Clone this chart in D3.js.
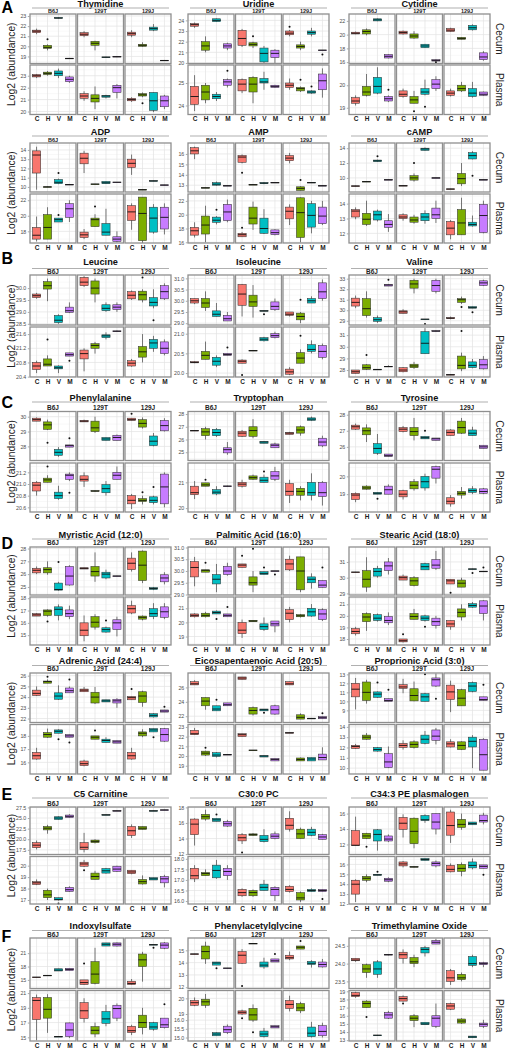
<!DOCTYPE html>
<html><head><meta charset="utf-8">
<script src="https://cdn.jsdelivr.net/npm/d3@7"></script>
<style>body{margin:0;background:#fff}svg{display:block}</style>
</head><body>
<svg id="chart" width="505" height="1050"></svg>
<script>
// ---------- categories ----------
const groups = ["C","H","V","M"];
const strains = ["B6J","129T","129J"];
const tissues = ["Cecum","Plasma"];
const sectionLetters = ["A","B","C","D","E","F"];
const metaboliteNames = ["Thymidine","Uridine","Cytidine","ADP","AMP","cAMP",
  "Leucine","Isoleucine","Valine","Phenylalanine","Tryptophan","Tyrosine",
  "Myristic Acid (12:0)","Palmitic Acid (16:0)","Stearic Acid (18:0)",
  "Adrenic Acid (24:4)","Eicosapentaenoic Acid (20:5)","Proprionic Acid (3:0)",
  "C5 Carnitine","C30:0 PC","C34:3 PE plasmalogen",
  "Indoxylsulfate","Phenylacetylglycine","Trimethylamine Oxide"];

// ---------- y domains and ticks (per metabolite: [cecum, plasma]) ----------
const cecumDomains = [[18.3,23.2],[19.95,24.6],[15.8,23.0],[9.45,14.75],[12.35,17.05],[8.1,14.7],
  [28.45,30.55],[28.92,31.15],[28.6,33.35],[27.05,30.35],[24.35,28.2],[25.15,28.2],
  [24.37,28.12],[28.98,31.02],[28.9,31.95],[21.63,26.25],[21.13,28.0],[7.65,13.15],
  [16.4,27.6],[11.95,18.05],[10.7,16.85],[13.07,24.4],[11.9,16.0],[23.3,24.72]];
const plasmaDomains = [[19.75,23.9],[23.6,25.8],[18.7,20.9],[16.5,22.8],[15.9,23.0],[11.35,14.65],
  [20.39,21.8],[19.9,21.17],[27.4,31.7],[20.52,21.36],[19.85,21.75],[18.0,20.75],
  [14.2,18.1],[18.4,21.8],[17.48,21.63],[15.12,18.86],[18.15,23.25],[9.43,14.23],
  [16.65,20.8],[15.86,18.11],[12.0,16.8],[14.5,21.35],[14.8,17.7],[12.9,19.1]];
const cecumTicks = [[19,20,21,22,23],[20,21,22,23,24],[16,18,20,22],[10,11,12,13,14],[13,14,15,16],[10,12,14],
  [28.5,29.0,29.5,30.0],[29.0,29.5,30.0,30.5,31.0],[29.0,30.0,31.0,32.0,33.0],[28,29,30],[25,26,27,28],[26,27,28],
  [25,26,27,28],[29.0,29.5,30.0,30.5,31.0],[29,30,31],[22,23,24,25,26],[22,24,26],[9,10,11,12,13],
  [17.5,20.0,22.5,25.0,27.5],[12,14,16,18],[12,14,16],[15,18,21],[12,13,14,15],[23.5,24.0,24.5]];
const plasmaTicks = [[20,21,22,23],[24,25],[19,20],[18,20,22],[16,18,20,22],[12,13,14],
  [20.4,20.8,21.2,21.6],[20.0,20.5,21.0],[28.0,29.0,30.0,31.0],[20.6,20.8,21.0,21.2],[20,21],[19,20],
  [15,16,17,18],[19,20,21],[18,19,20,21],[16,17,18],[19,20,21,22,23],[10,11,12,13,14],
  [17.0,18.0,19.0,20.0],[16.0,16.5,17.0,17.5,18.0],[12,13,14,15,16],[15,17,19,21],[15.0,15.5,16.0,16.35,17.25],[13,14,15,16,17,18,19]];
// special tick labels for Phenylacetylglycine plasma axis (as printed in the figure)
const pagPlasmaTickLabels = ["15.0","15.5","16.0","19","20"];

// ---------- box data: [lower whisker, Q1, median, Q3, upper whisker, ...outliers] ----------
// order: B6J C,H,V,M | 129T C,H,V,M | 129J C,H,V,M
const thymidineCecum = [[21.2,21.35,21.5,21.6,21.75],[19.6,19.8,19.9,20.1,20.2,20.7],[22.75,22.78,22.8,22.85,22.88],[18.75,18.77,18.8,18.82,18.85],
  [20.9,21.05,21.2,21.35,21.5],[19.6,20.1,20.3,20.5,20.55],[18.88,18.9,18.92,18.95,18.97],[18.93,18.95,18.97,19.0,19.02],
  [20.9,21.1,21.25,21.4,21.6],[19.95,20.0,20.1,20.2,20.4],[21.5,21.6,21.75,21.9,22.2],[18.55,18.58,18.6,18.62,18.65]];
const thymidinePlasma = [[22.8,22.9,23.0,23.1,23.15],[23.0,23.1,23.2,23.3,23.4],[22.8,23.0,23.2,23.4,23.6],[22.4,22.5,22.7,22.9,23.0],
  [20.9,21.1,21.3,21.5,21.7],[20.2,20.8,21.1,21.4,22.1],[21.1,21.2,21.3,21.35,21.4],[21.1,21.6,22.0,22.2,22.3],
  [20.8,20.9,21.0,21.1,21.2],[21.2,21.3,21.4,21.5,21.6,20.7],[19.95,20.1,20.9,21.6,21.6],[20.2,20.4,20.9,21.3,21.4]];
const uridineCecum = [[23.3,23.45,23.6,23.7,23.8],[21.0,21.2,21.6,22.0,22.5],[23.85,23.88,24.0,24.15,24.18],[21.2,21.4,21.6,21.8,21.9],
  [21.5,21.66,22.3,23.07,23.2],[21.4,21.6,21.75,21.9,22.0,22.5],[20.0,20.1,20.9,21.4,21.6],[20.0,20.5,20.9,21.2,21.3],
  [22.5,22.65,22.8,23.0,23.1,23.4],[21.2,21.4,21.55,21.7,22.0],[22.5,22.7,22.85,23.0,23.3],[21.18,21.19,21.2,21.21,21.22,20.8]];
const uridinePlasma = [[23.75,24.05,24.4,24.85,25.35],[24.1,24.25,24.6,24.9,25.0],[24.2,24.3,24.4,24.5,24.6],[24.8,24.9,25.05,25.15,25.2,25.55],
  [24.55,24.65,24.95,25.15,25.2],[24.1,24.6,24.95,25.25,25.3],[24.7,25.0,25.05,25.2,25.5],[24.78,24.8,24.85,24.9,24.92],
  [24.7,24.8,24.9,25.0,25.2],[24.6,24.65,24.75,24.8,24.85,25.15],[24.52,24.55,24.6,24.65,24.68,24.85],[24.35,24.7,25.1,25.4,25.65]];
const cytidineCecum = [[20.05,20.1,20.2,20.35,20.45],[19.9,20.1,20.45,20.7,20.9],[21.95,22.0,22.15,22.3,22.35],[16.55,16.6,16.85,17.1,17.15],
  [20.0,20.1,20.3,20.5,20.6],[19.4,19.5,19.8,20.1,20.5],[18.05,18.1,18.35,18.6,18.65],[16.12,16.15,16.25,16.35,16.4,16.0],
  [20.4,20.45,20.65,20.9,21.0],[19.3,19.32,19.45,19.6,19.62],[20.6,20.7,21.0,21.35,21.5],[16.2,16.35,16.75,17.35,17.6]];
const cytidinePlasma = [[19.1,19.2,19.3,19.45,19.55],[19.5,19.55,19.7,19.95,20.5],[19.6,19.65,19.95,20.35,20.8],[19.25,19.3,19.4,19.5,19.55,19.8],
  [19.45,19.5,19.6,19.75,19.85],[19.2,19.2,19.35,19.5,19.75,18.85],[19.55,19.6,19.7,19.85,20.25,19.05],[19.75,19.85,20.05,20.25,20.4],
  [19.5,19.55,19.65,19.75,19.85],[19.7,19.75,19.85,20.0,20.15],[19.45,19.5,19.65,19.85,20.15],[19.53,19.55,19.6,19.7,19.72]];
const adpCecum = [[9.7,11.5,13.45,13.9,14.35],[9.97,9.98,10.0,10.02,10.05],[10.3,10.35,10.5,10.8,10.9,11.5],[10.22,10.23,10.25,10.27,10.28],
  [11.5,12.5,13.1,13.65,13.9],[10.27,10.28,10.3,10.32,10.33],[10.33,10.35,10.45,10.6,10.62],[10.47,10.48,10.5,10.52,10.53],
  [11.3,12.1,12.55,13.0,13.5],[9.67,9.68,9.7,9.72,9.73],[10.62,10.63,10.65,10.67,10.68],[10.17,10.18,10.2,10.22,10.23]];
const adpPlasma = [[16.7,17.0,17.5,18.5,19.9],[17.0,17.0,18.5,20.15,21.1],[19.2,19.2,19.5,19.7,19.7,20.1],[19.2,19.8,20.9,21.55,22.0],
  [17.0,17.2,17.55,17.9,18.3],[18.6,18.6,19.5,19.7,20.2,21.2],[17.5,17.5,17.9,19.0,20.9],[16.6,16.7,17.0,17.3,18.0],
  [18.2,19.4,20.5,21.3,21.6],[16.5,16.8,20.3,22.4,22.4],[17.7,17.9,19.7,21.1,21.5],[17.6,18.3,19.8,21.1,21.6]];
const ampCecum = [[15.5,16.0,16.3,16.6,16.7],[12.73,12.74,12.75,12.77,12.78],[12.95,13.0,13.1,13.25,13.35],[12.93,12.94,12.95,12.97,12.98],
  [15.1,15.2,15.7,15.85,15.95,14.2],[13.03,13.04,13.05,13.07,13.08],[13.1,13.15,13.2,13.25,13.3],[13.23,13.24,13.25,13.27,13.28],
  [15.1,15.35,15.6,15.85,16.1],[12.5,12.5,12.7,12.85,12.9,13.5],[13.23,13.24,13.25,13.27,13.28],[12.93,12.94,12.95,12.97,12.98]];
const ampPlasma = [[16.7,17.04,17.67,18.16,18.9],[16.0,17.2,18.5,19.8,21.3],[18.6,18.9,19.2,19.65,19.8,20.7],[18.9,19.15,20.4,21.5,22.2],
  [16.8,16.8,17.1,17.3,17.5,18.1],[17.8,18.65,19.5,21.1,21.9],[17.2,17.3,18.0,19.5,20.8],[17.0,17.1,17.4,17.8,17.9],
  [18.5,19.4,20.5,21.1,21.5],[16.0,16.7,20.3,22.45,22.5],[17.3,18.2,19.9,21.6,22.0],[18.5,18.7,19.8,21.1,22.0]];
const campCecum = [[8.85,8.87,8.9,8.93,8.95],[9.47,9.48,9.5,9.52,9.53],[12.15,12.2,12.3,12.4,12.45,12.9],[9.72,9.73,9.75,9.77,9.78],
  [8.92,8.93,8.95,8.97,8.98],[9.5,9.7,10.0,10.3,10.6,12.0],[13.65,13.7,13.9,14.0,14.1],[9.97,9.98,10.0,10.02,10.03],
  [8.47,8.48,8.5,8.52,8.53],[8.9,9.2,9.9,10.6,12.0],[12.5,12.55,13.0,13.4,13.6,10.3],[9.72,9.73,9.75,9.77,9.78]];
const campPlasma = [[12.95,13.1,13.5,13.6,13.75],[12.5,12.6,12.95,13.35,14.2],[12.8,12.9,13.25,13.5,13.6],[12.1,12.4,12.6,12.85,13.3],
  [12.85,13.0,13.1,13.25,13.35],[12.65,12.75,12.9,13.1,13.25],[12.65,12.85,13.1,13.35,13.55],[12.7,13.0,13.25,13.7,14.2],
  [11.6,11.9,12.35,12.8,12.9],[11.9,11.9,12.7,13.6,14.4],[12.45,12.5,12.6,12.75,13.2],[12.0,12.05,13.2,13.95,14.2]];
const leucineCecum = [[29.55,29.6,29.68,29.75,29.8],[29.45,29.96,30.1,30.27,30.4],[28.5,28.55,28.65,28.85,28.9],[28.95,28.98,29.05,29.2,29.4],
  [30.05,30.1,30.25,30.45,30.5],[29.4,29.75,30.0,30.3,30.4],[29.0,29.05,29.15,29.3,29.4],[29.0,29.1,29.2,29.3,29.4],
  [29.5,29.55,29.7,29.85,29.9],[29.4,29.5,29.72,29.87,29.95,30.45],[29.15,29.25,29.4,29.6,29.95,28.65],[29.5,29.55,29.85,30.1,30.2]];
const leucinePlasma = [[20.5,20.6,20.7,20.8,20.85],[20.7,20.7,20.75,20.9,21.0,21.45],[20.5,20.62,20.65,20.7,20.72],[20.98,20.98,21.02,21.07,21.07,20.85],
  [20.55,20.9,21.05,21.15,21.2],[21.05,21.2,21.28,21.33,21.38],[21.45,21.5,21.55,21.58,21.65],[21.66,21.67,21.68,21.69,21.7],
  [20.68,20.7,20.78,20.85,20.9],[20.8,20.95,21.1,21.25,21.6],[21.1,21.2,21.35,21.45,21.55],[21.0,21.05,21.2,21.38,21.45]];
const isoleucineCecum = [[29.85,29.9,30.0,30.1,30.1],[29.55,29.7,29.9,30.1,30.42],[29.3,29.3,29.4,29.55,29.9],[29.1,29.1,29.2,29.35,29.5],
  [29.3,29.8,30.3,30.73,30.75],[29.25,29.75,29.95,30.25,30.7],[29.53,29.54,29.55,29.56,29.57,29.4],[29.55,29.6,29.75,29.95,30.1],
  [29.3,29.35,29.4,29.5,29.5],[29.0,29.15,29.3,29.45,29.5,30.05],[29.9,29.9,30.0,30.1,30.2],[30.0,30.1,30.4,30.8,30.95]];
const isoleucinePlasma = [[20.25,20.26,20.27,20.29,20.3],[20.35,20.35,20.45,20.55,20.8],[20.15,20.2,20.3,20.4,20.45],[20.45,20.45,20.47,20.5,20.5,20.65],
  [20.25,20.25,20.3,20.33,20.35,19.95],[20.56,20.565,20.57,20.575,20.58],[20.8,20.82,20.86,20.9,20.92],[20.88,20.9,20.95,21.0,21.05],
  [19.95,19.97,20.03,20.1,20.15],[20.25,20.25,20.38,20.52,20.6,20.95],[20.5,20.55,20.6,20.72,20.83],[20.35,20.4,20.55,20.7,20.75]];
const valineCecum = [[30.2,30.4,30.75,31.15,31.4],[29.3,29.5,30.15,31.1,31.8],[28.8,28.95,29.1,29.3,29.5],[32.3,32.3,32.4,32.45,32.5,32.9],
  [29.7,29.7,29.85,29.95,30.1],[31.6,32.1,32.5,32.85,33.0],[29.13,29.14,29.15,29.16,29.17,28.7],[31.6,31.8,32.35,32.85,33.0],
  [29.15,29.2,29.25,29.3,29.4],[30.6,30.75,31.0,31.1,31.3,30.3],[30.2,30.2,30.25,30.35,30.35,29.8],[32.3,32.35,32.6,32.8,32.9]];
const valinePlasma = [[27.7,27.7,27.85,28.0,28.0],[28.0,28.05,28.2,28.45,28.5,29.3],[28.03,28.04,28.05,28.06,28.07],[28.28,28.29,28.3,28.32,28.4],
  [27.8,27.85,28.0,28.2,28.25],[28.1,28.2,28.35,28.5,28.7],[29.4,29.4,30.3,31.3,31.6],[31.3,31.32,31.35,31.38,31.4],
  [27.58,27.59,27.6,27.61,27.62],[27.9,28.1,28.4,29.2,29.5,31.35],[28.15,28.2,28.4,28.7,28.95],[28.05,28.1,28.45,28.9,29.2]];
const phenylalanineCecum = [[29.7,29.7,29.8,29.9,29.95],[29.1,29.15,29.45,29.65,29.8,28.25],[27.3,27.4,27.6,27.8,27.95],[27.95,27.95,28.05,28.1,28.1,28.55],
  [29.65,29.65,29.7,29.75,29.8],[28.9,29.0,29.25,29.7,30.0],[28.4,28.4,28.5,28.6,28.6],[28.4,28.4,28.6,28.75,28.8],
  [29.75,29.75,29.8,29.9,29.9,30.2],[29.2,29.3,29.55,29.8,29.95],[28.0,28.05,28.35,28.7,28.9],[29.0,29.05,29.4,29.75,29.9]];
const phenylalaninePlasma = [[20.8,20.88,20.98,21.03,21.05],[21.03,21.03,21.07,21.1,21.15,21.3],[20.73,20.75,20.8,20.86,20.97],[21.05,21.08,21.15,21.17,21.2,20.85],
  [20.95,21.05,21.08,21.14,21.2],[20.87,20.875,20.88,20.885,20.89],[20.8,20.85,20.92,20.99,21.05],[21.08,21.08,21.15,21.2,21.3],
  [20.57,20.66,20.72,20.8,20.83],[20.65,20.7,20.72,20.75,20.8,20.86],[20.65,20.68,20.72,20.78,20.8,20.95],[20.6,20.66,20.95,21.17,21.2]];
const tryptophanCecum = [[26.68,26.69,26.7,26.71,26.72],[26.0,26.3,26.6,26.85,27.0],[26.2,26.3,26.55,26.8,26.9],[24.8,24.95,25.2,25.35,25.8],
  [26.2,26.25,26.5,26.65,26.75],[26.1,26.25,26.7,27.0,27.6],[25.7,25.7,25.8,25.85,25.85],[25.35,25.35,25.55,25.65,25.75],
  [26.4,26.4,26.5,26.55,26.6],[26.3,26.5,26.75,27.0,27.1],[27.45,27.5,27.6,27.7,27.8],[25.4,25.5,25.8,26.1,26.3]];
const tryptophanPlasma = [[20.35,20.52,20.6,20.85,21.05],[20.85,20.85,20.9,20.98,20.98,21.1],[20.5,20.55,20.62,20.72,20.85],[20.83,20.84,20.85,20.86,20.87],
  [20.8,20.85,20.93,21.0,21.1],[21.1,21.12,21.18,21.25,21.3],[21.0,21.0,21.08,21.2,21.3,21.42],[21.05,21.12,21.25,21.42,21.6],
  [20.2,20.5,20.65,20.95,21.1],[20.3,20.5,20.65,20.77,20.85],[20.3,20.5,20.6,21.0,21.35],[20.1,20.45,20.6,21.0,21.05]];
const tyrosineCecum = [[27.05,27.1,27.25,27.35,27.45],[26.3,26.75,27.0,27.18,27.4],[25.5,25.6,25.9,26.2,26.8],[25.4,25.4,25.45,25.55,25.55],
  [26.9,26.95,27.1,27.2,27.3],[26.4,26.7,26.95,27.2,27.8],[26.5,26.5,26.57,26.65,26.65,27.0],[26.4,26.4,26.5,26.55,26.55],
  [26.7,26.7,26.9,27.05,27.1],[26.8,26.85,27.2,27.6,27.8],[26.7,26.7,26.85,27.05,27.25],[25.9,25.9,26.0,26.1,26.1]];
const tyrosinePlasma = [[18.55,18.7,18.95,19.05,19.1],[19.25,19.28,19.35,19.45,19.5],[19.0,19.0,19.05,19.1,19.1,18.75],[19.0,19.0,19.25,19.45,19.55],
  [18.7,18.85,19.0,19.2,19.25],[19.2,19.3,19.5,19.7,19.85],[19.2,19.35,19.7,20.0,20.15],[19.6,19.9,20.4,20.55,20.6],
  [18.3,18.45,18.6,18.8,18.95],[18.75,18.95,19.05,19.15,19.4],[19.0,19.1,19.2,19.3,19.45],[19.0,19.05,19.15,19.3,19.35]];
const myristicCecum = [[26.0,26.1,26.3,26.45,26.6],[25.95,26.1,26.35,26.5,27.0],[24.7,24.75,24.8,25.3,25.4,26.95],[25.1,25.15,25.85,26.6,26.7],
  [26.4,26.4,26.45,26.5,26.5],[25.4,25.85,26.2,26.6,27.7],[25.6,25.7,26.0,26.15,26.35],[25.83,25.84,25.85,25.86,25.87],
  [26.2,26.35,26.85,27.25,27.7],[25.3,25.5,26.7,27.8,27.85],[24.75,24.8,24.88,24.95,25.0],[25.2,25.4,25.7,25.95,26.15]];
const myristicPlasma = [[16.55,16.55,16.65,16.75,16.8],[16.5,16.6,16.95,17.05,17.1,16.1],[16.2,16.6,17.1,17.3,17.5],[16.3,16.5,16.75,17.05,17.4],
  [14.5,14.95,15.4,16.0,16.6],[15.45,15.65,16.05,16.5,16.7],[15.2,15.25,15.45,15.6,15.7,16.2],[14.9,15.45,16.0,16.25,16.5],
  [16.7,16.8,17.15,17.4,17.8],[16.2,16.3,16.45,16.55,16.6],[16.3,16.5,16.75,17.15,17.6],[16.3,16.45,16.9,17.3,17.6]];
const palmiticCecum = [[29.35,29.75,30.15,30.4,30.6],[29.95,29.95,30.03,30.05,30.05,30.35],[29.1,29.45,29.65,29.85,30.3],[29.8,29.85,30.0,30.2,30.35],
  [30.15,30.15,30.25,30.3,30.3,30.65],[29.1,29.4,29.5,29.75,30.0,30.95],[29.85,29.85,29.9,29.97,29.97,30.15],[29.99,29.995,30.0,30.005,30.01,29.85],
  [30.0,30.05,30.3,30.5,30.65],[29.1,29.2,30.0,30.6,30.6],[29.25,29.5,29.65,29.75,29.9],[29.3,29.3,29.4,29.6,29.6,30.15]];
const palmiticPlasma = [[20.35,20.4,20.5,20.6,20.65],[20.35,20.4,20.5,20.65,20.75],[20.6,20.6,20.7,20.8,20.85,20.25],[20.4,20.4,20.5,20.6,20.6,21.1],
  [18.9,19.2,19.45,20.0,20.2],[20.05,20.05,20.1,20.15,20.15],[19.4,19.5,19.7,19.9,20.35],[19.3,19.75,19.9,20.1,20.1],
  [20.0,20.2,20.65,20.9,21.1],[20.35,20.4,20.47,20.55,20.6],[20.4,20.45,20.75,21.0,21.3],[20.1,20.2,20.6,20.9,21.0]];
const stearicCecum = [[30.33,30.34,30.35,30.36,30.37],[29.1,29.4,29.9,30.45,31.3],[30.0,30.1,30.4,30.6,30.75],[30.2,30.45,30.75,31.0,31.25],
  [29.85,29.85,30.0,30.1,30.2],[29.45,29.5,29.8,30.0,30.1],[30.5,30.5,30.7,30.9,30.95],[30.5,30.6,30.8,31.15,31.7],
  [29.6,29.6,29.8,29.9,29.9,29.05],[29.4,29.4,29.65,29.85,30.0],[30.53,30.54,30.55,30.56,30.57,30.3],[30.38,30.39,30.4,30.41,30.42,30.65]];
const stearicPlasma = [[18.3,18.45,18.65,18.9,19.05],[18.7,19.5,19.9,20.2,20.3],[19.5,19.6,19.8,20.1,20.2],[19.2,19.4,19.6,19.95,20.3],
  [17.7,17.75,17.85,18.0,18.0,18.4],[19.7,19.7,19.95,20.2,20.6],[19.5,19.6,19.8,20.0,20.1,19.05],[18.9,19.15,19.5,19.8,20.0],
  [18.8,19.05,19.3,19.6,19.6],[19.6,19.9,20.3,20.6,21.0],[20.7,20.75,20.9,21.05,21.2],[19.6,20.2,20.85,21.3,21.35]];
const adrenicCecum = [[24.1,24.15,24.35,24.65,25.0],[25.3,25.3,25.45,25.5,25.65,25.9],[23.75,23.8,24.1,24.4,25.1],[24.4,24.4,24.6,24.85,25.0,25.65],
  [24.5,24.5,24.65,24.75,24.95],[23.35,23.45,24.0,24.45,24.95],[23.55,23.55,23.65,23.75,23.75],[23.0,23.45,23.65,23.8,23.9],
  [23.75,23.75,23.95,24.05,24.05,24.75],[23.1,23.5,24.1,24.5,24.6],[22.1,22.15,22.3,22.45,22.5],[22.6,22.6,22.7,22.8,22.8,23.1]];
const adrenicPlasma = [[16.2,16.25,16.5,16.75,17.1],[17.85,17.9,18.1,18.25,18.55],[18.2,18.2,18.35,18.45,18.5,17.75],[17.9,17.9,18.0,18.1,18.1,17.5],
  [15.7,15.75,15.9,16.1,16.2],[17.75,17.75,17.9,18.0,18.0,18.4],[17.5,17.5,17.65,17.75,17.9],[17.45,17.45,17.55,17.65,17.65],
  [16.2,16.25,16.5,16.75,17.1],[17.9,18.0,18.2,18.3,18.5],[18.3,18.3,18.45,18.55,18.55,17.9],[17.55,17.6,18.1,18.55,18.6]];
const epaCecum = [[26.35,26.35,26.5,26.8,27.0],[22.9,23.45,24.1,24.6,24.6],[22.75,22.75,23.0,23.45,23.45,24.3],[23.45,23.45,23.6,23.85,23.85],
  [27.1,27.1,27.3,27.45,27.45],[22.1,22.3,22.8,23.2,23.35],[22.75,22.75,22.9,23.0,23.0,22.5],[22.2,22.3,22.9,23.45,23.6],
  [26.35,26.35,26.5,26.8,26.8],[21.6,21.6,21.85,22.2,22.4],[21.68,21.69,21.7,21.71,21.72],[21.65,21.65,21.8,21.95,21.95,22.4]];
const epaPlasma = [[22.2,22.2,22.3,22.65,22.9],[20.0,20.1,20.3,20.5,20.55,20.85],[19.85,19.95,20.1,20.35,20.4],[20.13,20.14,20.15,20.16,20.17],
  [22.0,22.0,22.2,22.3,22.3],[20.58,20.59,20.6,20.61,20.62],[19.9,19.9,20.0,20.05,20.05],[19.5,19.5,19.65,19.75,19.75],
  [22.38,22.39,22.4,22.41,22.42],[19.5,19.5,19.65,19.8,19.85],[19.5,19.5,19.7,19.85,19.85],[19.6,19.6,19.85,20.2,20.9]];
const propionicCecum = [[9.1,10.5,11.35,12.0,12.6],[9.75,10.1,11.0,12.15,12.4],[10.4,10.45,10.8,11.05,11.1,12.1],[10.0,10.0,10.1,10.3,10.3,11.3],
  [10.9,11.45,11.6,11.85,12.5],[10.0,10.05,10.65,11.4,12.2],[10.0,10.0,10.5,10.85,10.95,13.0],[11.6,11.7,12.4,12.6,13.1,10.3],
  [8.8,10.2,11.05,11.8,12.3],[9.5,9.5,10.35,11.3,11.4],[11.0,11.1,11.7,12.1,12.2],[10.1,10.1,10.2,10.5,10.5,11.85]];
const propionicPlasma = [[11.85,11.9,12.1,12.2,12.35],[12.75,12.8,13.0,13.2,13.4],[11.6,11.65,11.8,12.0,12.05],[10.0,10.05,10.6,11.4,12.1],
  [11.8,12.0,12.2,12.4,12.7],[11.9,12.0,12.3,12.55,12.7],[12.3,12.4,12.8,13.2,13.6],[12.3,12.7,13.1,13.7,13.9],
  [12.0,12.05,12.35,12.55,12.8],[11.75,11.8,12.2,12.55,12.6],[10.0,12.05,12.6,13.0,13.2],[9.8,9.8,11.3,12.8,12.9]];
const c5CarnitineCecum = [[17.6,18.0,18.6,19.2,19.7],[21.3,22.2,22.6,23.0,23.4],[24.6,24.65,25.0,25.3,25.4],[25.0,25.1,25.4,25.7,25.9],
  [16.9,17.6,18.1,19.2,21.5],[19.0,19.2,19.5,19.8,20.0],[25.7,25.72,25.75,25.78,25.8],[26.65,26.67,26.7,26.73,26.75],
  [20.3,20.9,22.0,23.0,23.5],[22.3,22.3,22.6,23.0,23.0],[26.65,26.67,26.7,26.73,26.75],[26.85,26.87,26.9,26.93,26.95]];
const c5CarnitinePlasma = [[18.3,18.35,18.5,18.6,18.8],[17.0,17.2,17.45,17.85,18.0],[16.95,17.0,17.05,17.2,17.2,16.7],[17.7,17.75,17.9,18.1,18.2],
  [19.9,19.95,20.15,20.3,20.5,19.6],[18.8,18.8,19.05,19.35,19.55],[19.3,19.35,19.55,19.75,19.8],[19.45,19.5,19.7,19.95,20.0],
  [19.25,19.3,19.45,19.6,19.6],[18.35,18.4,18.6,18.8,19.15],[18.75,18.75,18.85,18.95,18.95],[18.1,18.5,18.85,19.05,19.2]];
const c30pcCecum = [[13.1,14.5,15.85,16.5,16.6],[16.3,16.5,16.8,17.1,17.7],[16.2,16.2,16.4,16.6,16.6,17.1],[15.5,15.6,15.9,16.2,16.4],
  [13.3,13.7,14.1,14.5,14.7,12.2],[14.35,14.4,14.5,14.6,14.7],[13.5,13.6,13.9,14.4,15.2],[13.9,14.0,14.3,14.6,14.9],
  [14.9,15.2,15.7,16.6,17.5],[14.0,14.0,14.6,15.2,15.4],[14.3,14.4,14.8,15.2,15.5],[13.9,13.9,14.2,14.5,14.6]];
const c30pcPlasma = [[16.9,17.05,17.2,17.55,17.7],[17.2,17.2,17.3,17.35,17.5],[17.05,17.1,17.45,17.7,17.95],[17.0,17.2,17.4,17.55,17.7],
  [16.2,16.25,16.4,16.55,16.6],[16.2,16.25,16.4,16.5,16.55],[16.5,16.5,16.65,16.8,17.0],[16.0,16.25,16.55,16.65,16.7],
  [16.4,16.45,16.55,16.7,16.75],[15.95,16.05,16.15,16.4,16.45],[16.45,16.45,16.5,16.55,16.6],[16.45,16.45,16.5,16.55,16.55,16.1]];
const c34peCecum = [[11.85,11.85,11.9,13.8,15.6],[12.7,12.75,13.1,13.45,13.5,11.7],[11.2,12.45,13.3,13.9,14.0],[12.3,12.45,12.7,13.1,13.3],
  [12.9,13.95,14.75,15.5,15.9],[11.5,12.1,13.7,15.4,15.5],[14.8,15.1,15.2,15.75,15.9],[13.3,14.0,14.9,16.0,16.0],
  [12.2,13.2,14.45,16.2,16.5],[13.9,14.2,14.6,15.25,16.0],[14.55,14.55,14.7,14.9,14.9],[14.6,14.9,15.1,15.8,16.1]];
const c34pePlasma = [[12.2,13.0,14.0,14.4,14.5],[14.2,14.4,14.6,14.8,15.0],[14.9,14.9,14.95,15.0,15.0,15.25],[14.2,14.3,14.45,14.6,14.7],
  [15.7,15.85,16.05,16.25,16.35],[15.7,15.72,15.75,15.78,15.8],[16.4,16.4,16.5,16.6,16.6],[15.7,15.85,16.1,16.25,16.4],
  [15.2,15.25,15.5,15.9,16.1],[14.8,15.3,15.6,16.0,16.2],[15.5,15.65,15.9,16.25,16.6],[15.6,15.6,15.8,15.95,15.95,14.95]];
const indoxylCecum = [[15.55,15.57,15.6,15.63,15.65],[15.95,15.97,16.0,16.03,16.05],[17.0,17.0,17.2,17.5,17.5],[17.1,17.1,17.35,17.6,17.6],
  [13.9,13.95,14.4,15.0,15.0,18.7],[14.0,14.2,16.3,19.1,22.2],[22.6,22.6,23.0,23.3,23.3],[22.5,22.6,23.0,23.3,23.4],
  [13.9,13.95,14.2,14.7,15.2],[14.6,18.0,19.5,20.8,21.3],[22.85,22.87,22.9,22.93,22.95,22.2],[21.9,22.1,22.8,23.3,23.5]];
const indoxylPlasma = [[14.6,17.4,20.0,20.4,20.8],[15.6,17.6,18.8,20.4,20.85],[15.08,15.09,15.1,15.11,15.12],[14.9,15.1,16.0,16.95,17.0],
  [17.0,17.55,18.6,19.7,20.3],[15.0,15.45,15.95,16.45,17.0],[16.5,16.9,17.5,18.5,19.4],[17.2,17.6,18.9,19.35,19.6],
  [15.3,15.65,15.9,16.5,16.7],[15.4,16.3,17.0,18.0,19.0],[15.9,16.1,16.4,17.0,17.1],[16.2,16.3,16.7,17.6,17.6,19.5]];
const pagCecum = [[14.68,14.69,14.7,14.71,14.72],[13.9,14.3,14.9,15.35,15.7],[13.8,13.8,13.97,14.05,14.05,13.55],[13.53,13.54,13.55,13.56,13.57],
  [13.9,13.95,14.6,14.9,15.1,12.1],[15.53,15.54,15.55,15.56,15.57],[13.5,13.65,13.8,14.05,14.4],[14.05,14.05,14.15,14.3,14.3,14.7],
  [14.2,14.3,14.4,14.6,14.9],[15.1,15.1,15.25,15.35,15.35,15.75],[13.6,13.85,13.95,14.1,14.2],[13.6,13.65,13.85,14.05,14.3]];
const pagPlasma = [[16.8,16.85,17.0,17.13,17.3],[16.7,16.85,17.05,17.2,17.5],[15.1,15.1,15.2,15.28,15.3],[15.2,15.28,15.45,15.65,15.75],
  [16.3,16.35,16.45,16.53,16.6,16.1],[15.9,16.0,16.3,16.67,16.9,15.3],[15.0,15.05,15.2,15.37,15.55],[15.55,15.55,15.62,15.68,15.68],
  [16.5,16.67,16.9,17.13,17.4],[16.4,16.53,16.7,16.95,17.05],[15.0,15.05,15.25,15.6,15.9],[15.0,15.1,15.35,15.68,15.85]];
const tmaoCecum = [[24.05,24.08,24.1,24.15,24.15],[23.6,23.75,23.85,23.97,24.0],[23.6,23.7,23.85,24.05,24.1],[24.23,24.24,24.25,24.26,24.27],
  [24.0,24.15,24.25,24.32,24.4],[23.9,24.0,24.05,24.17,24.25],[24.2,24.3,24.4,24.45,24.5],[24.55,24.55,24.6,24.65,24.7],
  [23.4,23.5,23.6,23.8,23.85],[23.5,23.55,23.6,23.7,23.75],[23.9,23.95,24.0,24.2,24.25],[23.9,23.97,24.0,24.03,24.05]];
const tmaoPlasma = [[18.2,18.35,18.5,18.85,18.95],[17.0,17.0,17.5,17.8,17.9,15.85],[13.55,13.57,13.6,13.63,13.65],[15.6,15.7,16.1,16.4,16.6],
  [17.75,17.8,18.1,18.35,18.5,17.5],[14.6,15.4,15.7,16.0,16.2],[14.9,14.9,15.0,15.2,15.2],[14.5,14.7,15.7,16.0,17.5],
  [16.7,16.8,17.2,17.5,17.6],[15.0,15.1,15.35,15.6,15.7],[13.3,13.3,13.4,13.5,13.5],[14.5,14.7,14.95,15.1,15.5]];

const cecumData = [thymidineCecum,uridineCecum,cytidineCecum,adpCecum,ampCecum,campCecum,
  leucineCecum,isoleucineCecum,valineCecum,phenylalanineCecum,tryptophanCecum,tyrosineCecum,
  myristicCecum,palmiticCecum,stearicCecum,adrenicCecum,epaCecum,propionicCecum,
  c5CarnitineCecum,c30pcCecum,c34peCecum,indoxylCecum,pagCecum,tmaoCecum];
const plasmaData = [thymidinePlasma,uridinePlasma,cytidinePlasma,adpPlasma,ampPlasma,campPlasma,
  leucinePlasma,isoleucinePlasma,valinePlasma,phenylalaninePlasma,tryptophanPlasma,tyrosinePlasma,
  myristicPlasma,palmiticPlasma,stearicPlasma,adrenicPlasma,epaPlasma,propionicPlasma,
  c5CarnitinePlasma,c30pcPlasma,c34pePlasma,indoxylPlasma,pagPlasma,tmaoPlasma];

// ---------- layout (positions only) ----------
const colors = d3.scaleOrdinal().domain(groups).range(["#F8766D","#7CAE00","#00BFC4","#C77CFF"]);
const FONT = "'Liberation Sans', Arial, Helvetica, sans-serif";
const PW = 46, PG = 1.5;
const colX = [30, 188, 349];
const rowsLayout = [
  {top:14,   h:49.5, gap:1.5, title:6.5,  line:8,     strip:12.8,  sfs:5.5},
  {top:143,  h:49,   gap:2,   title:134.5,line:136,   strip:141.5, sfs:5.5},
  {top:275,  h:50,   gap:2,   title:265,  line:268.5, strip:273.8, sfs:6.5},
  {top:411.5,h:49,   gap:2.5, title:400.5,line:402,   strip:409.8, sfs:6.5},
  {top:547,  h:48,   gap:2,   title:537.5,line:539,   strip:545.4, sfs:6.5},
  {top:673,  h:49.5, gap:2,   title:664,  line:665.5, strip:671.2, sfs:6.5},
  {top:807,  h:47.5, gap:2,   title:796.5,line:798,   strip:805.7, sfs:6.5},
  {top:938,  h:50.5, gap:2,   title:929,  line:930.5, strip:936.8, sfs:6.5}
];
const letterY = [13,264,408,549,800,942];

const svg = d3.select("#chart").style("font-family", FONT);
svg.append("rect").attr("width",505).attr("height",1050).attr("fill","#fff");

function fmtFor(ticks){
  return ticks.some(t => Math.abs(t - Math.round(t)) > 1e-9) ? d3.format(".1f") : d3.format("d");
}

function drawPanel(g, x0, y0, h, domain, ticks, boxes, showAxis, tickLabels){
  const y = d3.scaleLinear().domain(domain).range([y0 + h, y0]);
  const x = d3.scalePoint().domain(groups).range([x0, x0 + PW]).padding(0.6);
  const bw = x.step() * 0.75;
  const p = g.append("g");
  p.append("rect").attr("x",x0).attr("y",y0).attr("width",PW).attr("height",h).attr("fill","#fff");
  const minors = [];
  const step = ticks.length > 1 ? ticks[1]-ticks[0] : 1;
  for (let i=0;i<ticks.length-1;i++) minors.push((ticks[i]+ticks[i+1])/2);
  if (ticks[0]-step/2 > domain[0]) minors.push(ticks[0]-step/2);
  if (ticks[ticks.length-1]+step/2 < domain[1]) minors.push(ticks[ticks.length-1]+step/2);
  p.selectAll(".mi").data(minors).join("line")
    .attr("x1",x0).attr("x2",x0+PW).attr("y1",d=>y(d)).attr("y2",d=>y(d))
    .attr("stroke","#f0f0f0").attr("stroke-width",0.5);
  p.selectAll(".ma").data(ticks).join("line")
    .attr("x1",x0).attr("x2",x0+PW).attr("y1",d=>y(d)).attr("y2",d=>y(d))
    .attr("stroke","#e2e2e2").attr("stroke-width",0.7);
  p.selectAll(".vg").data(groups).join("line")
    .attr("x1",d=>x(d)).attr("x2",d=>x(d)).attr("y1",y0).attr("y2",y0+h)
    .attr("stroke","#e2e2e2").attr("stroke-width",0.7);
  const bg = p.selectAll(".box").data(boxes).join("g");
  bg.append("line")
    .attr("x1",(d,i)=>x(groups[i])).attr("x2",(d,i)=>x(groups[i]))
    .attr("y1",d=>y(d[0])).attr("y2",d=>y(d[4]))
    .attr("stroke","#222").attr("stroke-width",0.6);
  bg.append("rect")
    .attr("x",(d,i)=>x(groups[i]) - bw/2).attr("width",bw)
    .attr("y",d=>y(d[3])).attr("height",d=>Math.max(0.6, y(d[1]) - y(d[3])))
    .attr("fill",(d,i)=>colors(groups[i])).attr("stroke","#333").attr("stroke-width",0.55);
  bg.append("line")
    .attr("x1",(d,i)=>x(groups[i]) - bw/2).attr("x2",(d,i)=>x(groups[i]) + bw/2)
    .attr("y1",d=>y(d[2])).attr("y2",d=>y(d[2]))
    .attr("stroke","#111").attr("stroke-width",0.9);
  bg.each(function(d,i){
    d3.select(this).selectAll("circle").data(d.slice(5)).join("circle")
      .attr("cx",x(groups[i])).attr("cy",v=>y(v)).attr("r",1).attr("fill","#111");
  });
  p.append("rect").attr("x",x0).attr("y",y0).attr("width",PW).attr("height",h)
    .attr("fill","none").attr("stroke","#8f8f8f").attr("stroke-width",1.3);
  if (showAxis){
    const f = fmtFor(ticks);
    const ax = d3.axisLeft(y).tickValues(ticks).tickSize(1.5).tickPadding(1.5)
      .tickFormat((d,i)=> tickLabels ? tickLabels[i] : f(d));
    const a = g.append("g").attr("transform",`translate(${x0 - 0.7},0)`).call(ax);
    a.select(".domain").remove();
    a.selectAll("line").attr("stroke","#555").attr("stroke-width",0.5);
    a.selectAll("text").attr("fill","#4d4d4d").style("font-size","5.3px").style("font-family",FONT);
  }
  return x;
}

rowsLayout.forEach((R, r) => {
  const g = svg.append("g");
  const pTop = R.top + R.h + R.gap;
  for (let c=0;c<3;c++){
    const m = r*3 + c;
    const x0 = colX[c];
    const span = 3*PW + 2*PG;
    g.append("text").attr("x",x0 + span/2).attr("y",R.title).attr("text-anchor","middle")
      .style("font-size","9.2px").style("font-weight","bold").attr("fill","#111").text(metaboliteNames[m]);
    g.append("line").attr("x1",x0+2).attr("x2",x0+span-2).attr("y1",R.line).attr("y2",R.line)
      .attr("stroke","#b0b0b0").attr("stroke-width",1.1);
    strains.forEach((s, si) => {
      const px = x0 + si*(PW+PG);
      g.append("text").attr("x",px + PW/2).attr("y",R.strip).attr("text-anchor","middle")
        .style("font-size",R.sfs+"px").style("font-weight","bold").attr("fill","#222").text(s);
      drawPanel(g, px, R.top, R.h, cecumDomains[m], cecumTicks[m], cecumData[m].slice(si*4, si*4+4), si===0, null);
      const xs = drawPanel(g, px, pTop, R.h, plasmaDomains[m], plasmaTicks[m], plasmaData[m].slice(si*4, si*4+4), si===0,
        m===22 ? pagPlasmaTickLabels : null);
      const xa = d3.axisBottom(xs).tickSize(0).tickPadding(0);
      const a = g.append("g").attr("transform",`translate(0,${pTop + R.h + 2})`).call(xa);
      a.select(".domain").remove();
      a.selectAll("text").attr("fill","#1a1a1a").attr("dy","0.72em")
        .style("font-size","6.5px").style("font-weight","bold").style("font-family",FONT);
    });
  }
  const cy = R.top + R.h + R.gap/2;
  g.append("text").attr("transform",`translate(11,${cy}) rotate(-90)`).attr("text-anchor","middle")
    .attr("dy","0.35em").style("font-size","10.3px").attr("fill","#222").text("Log2 (abundance)");
  [R.top + R.h/2, pTop + R.h/2].forEach((yy, ti) => {
    g.append("text").attr("transform",`translate(499,${yy}) rotate(90)`).attr("text-anchor","middle")
      .attr("dy","0.35em").style("font-size","10px").attr("fill","#222").text(tissues[ti]);
  });
});

sectionLetters.forEach((L,i) => {
  svg.append("text").attr("x",1.5).attr("y",letterY[i]).style("font-size","16px").style("font-weight","bold")
    .attr("fill","#000").text(L);
});
</script>
</body></html>
